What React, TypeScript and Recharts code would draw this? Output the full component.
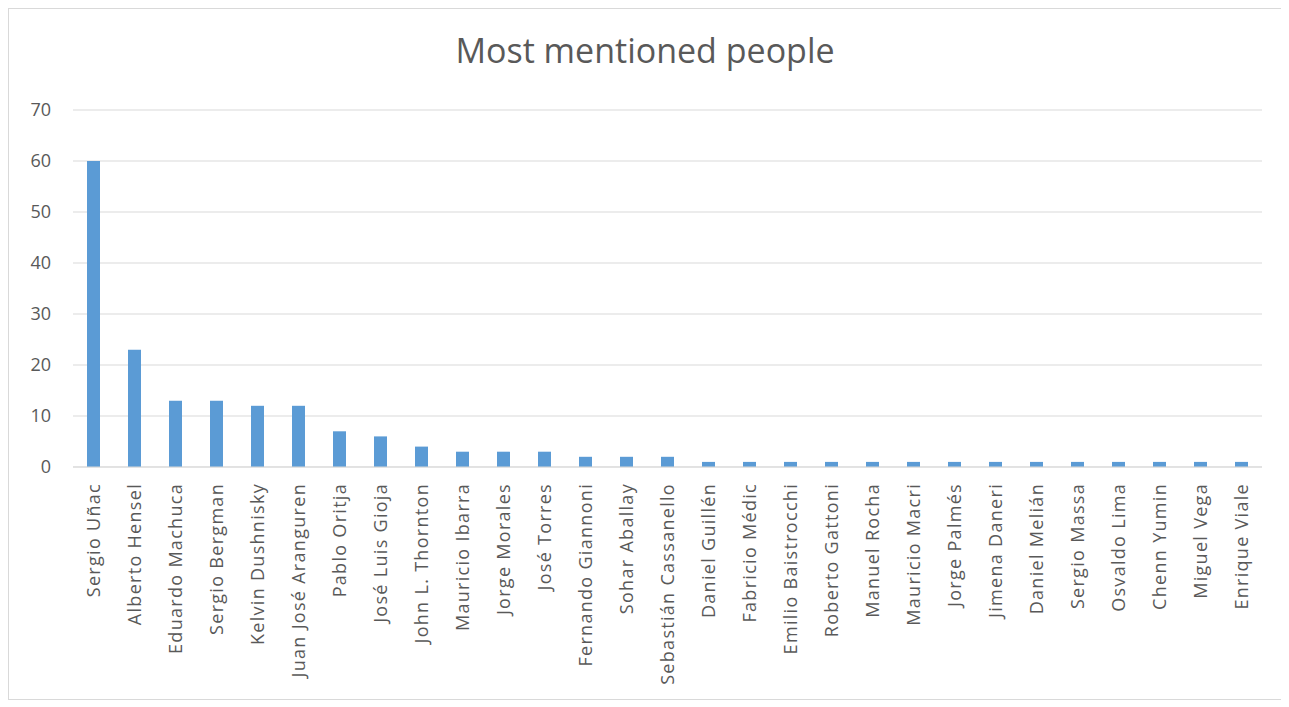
import React from 'react';
import { BarChart, Bar, XAxis, YAxis, CartesianGrid } from 'recharts';

const people = [
  'Sergio Uñac', 'Alberto Hensel', 'Eduardo Machuca', 'Sergio Bergman', 'Kelvin Dushnisky',
  'Juan José Aranguren', 'Pablo Oritja', 'José Luis Gioja', 'John L. Thornton', 'Mauricio Ibarra',
  'Jorge Morales', 'José Torres', 'Fernando Giannoni', 'Sohar Aballay', 'Sebastián Cassanello',
  'Daniel Guillén', 'Fabricio Médic', 'Emilio Baistrocchi', 'Roberto Gattoni', 'Manuel Rocha',
  'Mauricio Macri', 'Jorge Palmés', 'Jimena Daneri', 'Daniel Melián', 'Sergio Massa',
  'Osvaldo Lima', 'Chenn Yumin', 'Miguel Vega', 'Enrique Viale',
];

const mentions = [60, 23, 13, 13, 12, 12, 7, 6, 4, 3, 3, 3, 2, 2, 2, 1, 1, 1, 1, 1, 1, 1, 1, 1, 1, 1, 1, 1, 1];

const yTicks = [0, 10, 20, 30, 40, 50, 60, 70];

const data = people.map((name, i) => ({ name, value: mentions[i] }));

const textColor = '#595959';
const fontFamily = '"Open Sans", "Noto Sans", sans-serif';

// rotated category label, reads bottom-to-top
const NameTick = ({ x, y, payload }: any) => (
  <text
    x={x}
    y={y}
    transform={`rotate(-90, ${x}, ${y}) translate(-8, 6)`}
    textAnchor="end"
    fill={textColor}
    fontSize={18}
    letterSpacing={1.3}
    fontFamily={fontFamily}
  >
    {payload.value}
  </text>
);

export default function App() {
  return (
    <div style={{ position: 'relative', width: 1274, height: 692, border: '1px solid #d9d9d9', boxSizing: 'border-box', background: '#fff' }}>
      <div style={{
        position: 'absolute', top: 18, left: 0, width: '100%', textAlign: 'center',
        fontFamily, fontSize: 34, color: textColor,
      }}>
        Most mentioned people
      </div>
      <BarChart
        width={1272}
        height={690}
        data={data}
        margin={{ top: 101, right: 19, left: 0, bottom: 8 }}
      >
        <CartesianGrid vertical={false} stroke="#d9d9d9" />
        <XAxis
          dataKey="name"
          interval={0}
          height={224}
          tick={<NameTick />}
          tickLine={false}
          axisLine={{ stroke: '#d9d9d9' }}
        />
        <YAxis
          width={64}
          domain={[0, 70]}
          ticks={yTicks}
          axisLine={false}
          tickLine={false}
          tickSize={0}
          tickMargin={22}
          tick={{ fill: textColor, fontSize: 18, fontFamily }}
        />
        <Bar dataKey="value" fill="#5b9bd5" barSize={13} isAnimationActive={false} />
      </BarChart>
    </div>
  );
}
